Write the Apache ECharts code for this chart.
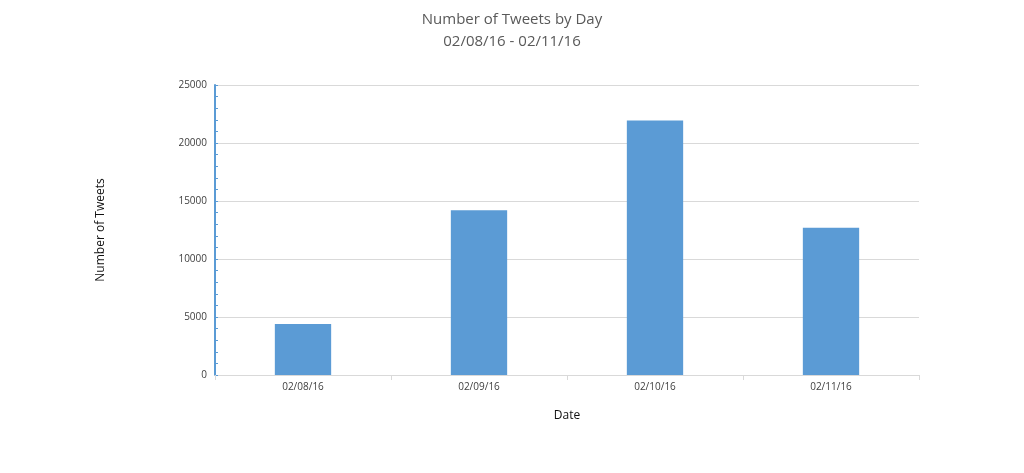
<!DOCTYPE html>
<html>
<head>
<meta charset="utf-8">
<script src="https://cdn.jsdelivr.net/npm/echarts@6/dist/echarts.min.js"></script>
<style>
  html, body { margin: 0; padding: 0; background: #fff; }
  #main { width: 1024px; height: 473px; }
</style>
</head>
<body>
<div id="main"></div>
<script>
var days = ['02/08/16', '02/09/16', '02/10/16', '02/11/16'];
var tweets = [4400, 14200, 21950, 12700];

var chart = echarts.init(document.getElementById('main'));
var font = '"Open Sans", "Liberation Sans", sans-serif';

chart.setOption({
  animation: false,
  title: {
    text: 'Number of Tweets by Day\n02/08/16 - 02/11/16',
    left: 'center',
    top: 4,
    textStyle: {
      fontFamily: font,
      fontSize: 15,
      fontWeight: 'normal',
      color: '#595959',
      lineHeight: 22
    }
  },
  grid: { left: 215, right: 105, top: 85, bottom: 98 },
  xAxis: {
    type: 'category',
    data: days,
    name: 'Date',
    nameLocation: 'middle',
    nameGap: 35,
    nameTextStyle: { fontFamily: font, fontSize: 12, color: '#111' },
    axisLine: { lineStyle: { color: '#d9d9d9' } },
    axisTick: { show: true, alignWithLabel: false, length: 5, lineStyle: { color: '#d9d9d9' } },
    axisLabel: { fontFamily: font, fontSize: 10, color: '#404040', margin: 7 }
  },
  yAxis: {
    type: 'value',
    min: 0,
    max: 25000,
    interval: 5000,
    name: 'Number of Tweets',
    nameLocation: 'middle',
    nameGap: 108,
    nameTextStyle: { fontFamily: font, fontSize: 12, color: '#111' },
    axisLine: { show: true, lineStyle: { color: '#5b9bd5', width: 2 } },
    axisTick: { show: true, inside: true, length: 3, lineStyle: { color: '#5b9bd5' } },
    minorTick: { show: true, splitNumber: 5, length: 3, lineStyle: { color: '#5b9bd5' } },
    axisLabel: {
      fontFamily: font, fontSize: 10, color: '#404040', margin: 8,
      formatter: function (v) { return String(v); }
    },
    splitLine: { lineStyle: { color: '#d9d9d9' } }
  },
  series: [{
    type: 'bar',
    data: tweets,
    barWidth: '32%',
    itemStyle: { color: '#5b9bd5' }
  }]
});
</script>
</body>
</html>
